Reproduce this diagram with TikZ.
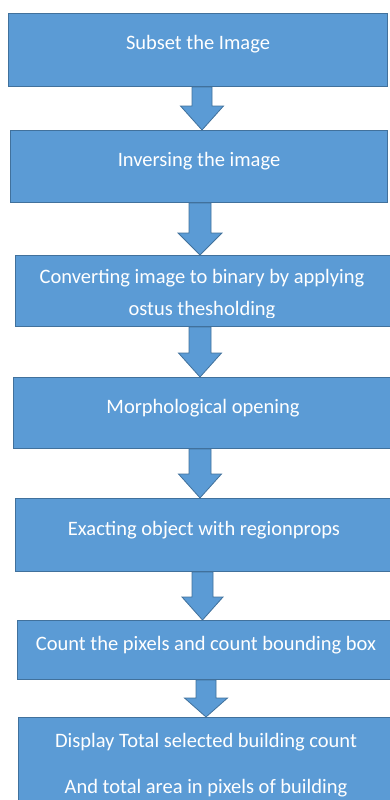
\documentclass[tikz,border=0pt]{standalone}
\usepackage{fontspec}
\setmainfont{Carlito}
\usetikzlibrary{calc}
\definecolor{boxblue}{HTML}{5B9BD5}
\definecolor{edgeblue}{HTML}{41719C}
\newcommand\blockarr[6]{%
  \draw[blockarrow] let \p1=(#1.south), \p2=(#2.north) in
   (#3pt-#4pt,\y1) -- (#3pt+#4pt,\y1) -- (#3pt+#4pt,\y2+#6pt) -- (#3pt+#5pt,\y2+#6pt)
   -- (#3pt,\y2) -- (#3pt-#5pt,\y2+#6pt) -- (#3pt-#4pt,\y2+#6pt) -- cycle;}
\begin{document}
\begin{tikzpicture}[x=1pt,y=-1pt,
  stepbox/.style={draw=edgeblue, fill=boxblue, line width=1pt, text=white,
    font=\fontsize{20.5}{24}\selectfont, inner sep=0pt, anchor=north west,
    text height=13pt, text depth=13pt},
  boxtext/.style={text=white, font=\fontsize{20.5}{24}\selectfont, inner sep=0pt, anchor=base},
  blockarrow/.style={draw=edgeblue, fill=boxblue, line width=0.8pt, line join=miter}]
\useasboundingbox (0,0) rectangle (389,800);

\node[stepbox, minimum width=379pt, minimum height=73pt] (b1) at (8,13) {Subset the Image};
\node[stepbox, minimum width=377pt, minimum height=72pt] (b2) at (10,130) {Inversing the image};
\node[stepbox, minimum width=377pt, minimum height=71pt] (b3) at (15,255) {};
\begin{scope}
  \clip (15,255) rectangle (392,317);
  \node[boxtext] (t3a) at (202,283) {Converting image to binary by applying};
  \node[boxtext] (t3b) at (202,315) {ostus thesholding};
\end{scope}
\node[stepbox, minimum width=379pt, minimum height=71pt] (b4) at (13,377) {Morphological opening};
\node[stepbox, minimum width=377pt, minimum height=73pt] (b5) at (15,498) {Exacting object with regionprops};
\node[stepbox, minimum width=377pt, minimum height=59pt] (b6) at (17,620) {Count the pixels and count bounding box};
\node[stepbox, minimum width=377pt, minimum height=95pt] (b7) at (18,717) {};
\node[boxtext] (t7a) at (206,747) {Display Total selected building count};
\node[boxtext] (t7b) at (206,793) {And total area in pixels of building};

\blockarr{b1}{b2}{202}{10}{21.5}{24}
\blockarr{b2}{b3}{200}{11}{22}{22}
\blockarr{b3}{b4}{200}{11}{21.5}{24}
\blockarr{b4}{b5}{200}{11}{21.5}{24}
\blockarr{b5}{b6}{202.5}{10.5}{20.5}{23}
\blockarr{b6}{b7}{206}{10}{21.5}{19}
\end{tikzpicture}
\end{document}
